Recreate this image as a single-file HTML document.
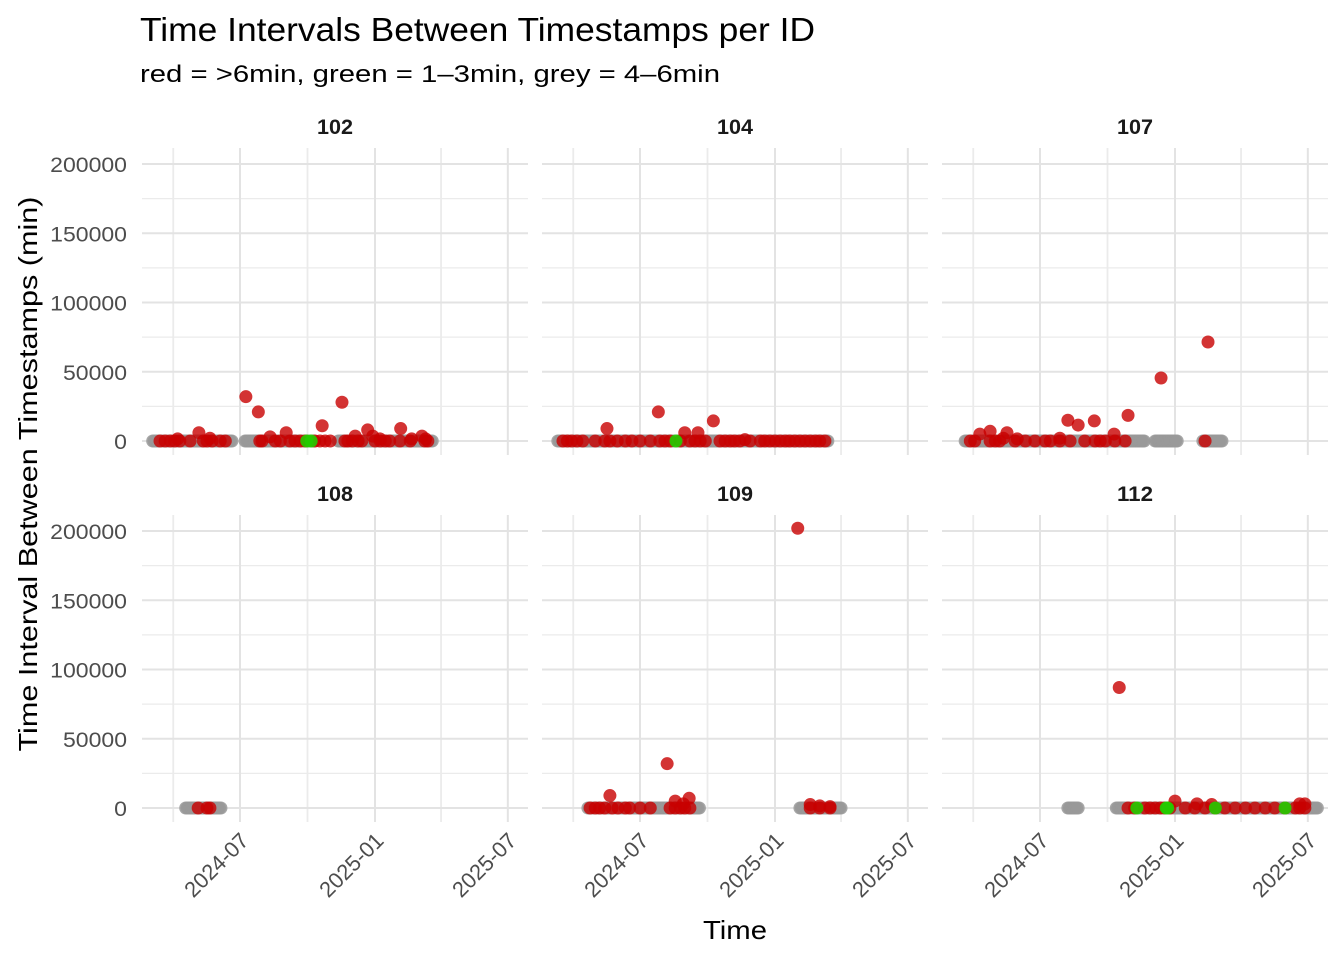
<!DOCTYPE html>
<html><head><meta charset="utf-8"><style>
body{margin:0;background:#fff;}
svg{display:block;font-family:"Liberation Sans",Arial,sans-serif;}
</style></head><body>
<svg id="chart" width="1344" height="960" xmlns="http://www.w3.org/2000/svg">
<text x="140" y="41" font-size="33" textLength="675" lengthAdjust="spacingAndGlyphs" fill="#000">Time Intervals Between Timestamps per ID</text>
<text x="140" y="82" font-size="24" textLength="580" lengthAdjust="spacingAndGlyphs" fill="#000">red = &gt;6min, green = 1–3min, grey = 4–6min</text>
<text transform="translate(37,474) rotate(-90)" text-anchor="middle" font-size="26" textLength="555" lengthAdjust="spacingAndGlyphs" fill="#000">Time Interval Between Timestamps (min)</text>
<text x="735" y="939" text-anchor="middle" font-size="26" textLength="64" lengthAdjust="spacingAndGlyphs" fill="#000">Time</text>
</svg>
<script>
// x values are days since 2024-07-01
const xTickDays = [0, 184, 365];
const xTickLabels = ["2024-07", "2025-01", "2025-07"];
const xMinorDays = [-91, 92, 274];
const yTicks = [0, 50000, 100000, 150000, 200000];
const yMinor = [25000, 75000, 125000, 175000];
const panelIds = ["102", "104", "107", "108", "109", "112"];

const grey102 = [[-119,-11],[7,102],[134,262]];
const redDay102 = [-109,-102,-95,-89,-82,-68,-50,-45,-38,-27,-20,27,30,48,55,68,75,82,89,102,109,116,123,143,147,153,161,166,184,191,198,204,218,232,252,256, 8,25,-56,-85,-41,41,63,112,139,157,174,181,191,219,234,248,253];
const redVal102 = [0,0,0,0,0,0,0,0,0,0,0,0,0,0,0,0,0,0,0,0,0,0,0,0,0,0,0,0,0,0,0,0,0,0,0,0, 32000,21000,6000,1500,2000,3000,6000,11000,28000,3500,8000,3500,1500,9000,1500,3500,1500];
const greenDay102 = [91,97];

const grey104 = [[-112,256]];
const redDay104 = [-105,-99,-93,-86,-78,-61,-48,-41,-31,-20,-11,0,14,27,34,41,55,68,75,82,89,109,116,123,129,136,150,164,170,177,184,191,198,204,211,218,225,232,239,245,252, -45,25,61,79,100,143];
const redVal104 = [0,0,0,0,0,0,0,0,0,0,0,0,0,0,0,0,0,0,0,0,0,0,0,0,0,0,0,0,0,0,0,0,0,0,0,0,0,0,0,0,0, 9000,21000,6000,6000,14500,1000];
const greenDay104 = [49];

const grey107 = [[-102,143],[157,187],[222,248]];
const redDay107 = [-95,-89,-68,-61,-55,-34,-20,-7,7,14,27,41,61,75,82,89,102,116,225, -82,-68,-45,-31,27,38,52,74,101,120,165,229,-50];
const redVal107 = [0,0,0,0,0,0,0,0,0,0,0,0,0,0,0,0,0,0,0, 5000,7000,6000,1500,2000,15000,11500,14500,5000,18500,45500,71500,2000];
const greenDay107 = [];

const grey108 = [[-74,-25]];
const redDay108 = [-57,-45,-41];
const redVal108 = [0,0,0];
const greenDay108 = [];

const grey109 = [[-71,82],[218,275]];
const redDay109 = [-68,-61,-55,-48,-38,-30,-20,-14,0,14,41,48,55,61,68,232,245,259, -41,37,48,59,67,215,232,245,259];
const redVal109 = [0,0,0,0,0,0,0,0,0,0,0,0,0,0,0,0,0,0, 9000,32000,5000,3000,7000,202000,2500,1500,1000];
const greenDay109 = [];

const grey112 = [[38,52],[104,379]];
const redDay112 = [120,129,143,150,157,164,170,177,198,211,225,239,252,266,280,293,307,320,334,348,354,361, 108,184,214,234,354,361];
const redVal112 = [0,0,0,0,0,0,0,0,0,0,0,0,0,0,0,0,0,0,0,0,0,0, 87000,5000,3000,2500,3000,3000];
const greenDay112 = [132,172,174,239,334];

const greys = [grey102, grey104, grey107, grey108, grey109, grey112];
const redDays = [redDay102, redDay104, redDay107, redDay108, redDay109, redDay112];
const redVals = [redVal102, redVal104, redVal107, redVal108, redVal109, redVal112];
const greenDays = [greenDay102, greenDay104, greenDay107, greenDay108, greenDay109, greenDay112];

const NS = "http://www.w3.org/2000/svg";
const svg = document.getElementById("chart");
function mk(tag, attrs, parent){const e=document.createElementNS(NS,tag);for(const k in attrs)e.setAttribute(k,attrs[k]);(parent||svg).appendChild(e);return e;}

const colX = [142, 542, 942], panelW = 386;
const rowTop = [148, 515], panelH = 307;
const zeroY = [441, 808], pxPerUnit = 277/200000;
const x0day = 240 - 142;
const pxPerDay = 135/184;

for (let p = 0; p < 6; p++) {
  const col = p % 3, row = Math.floor(p / 3);
  const L = colX[col], T = rowTop[row];
  const xs = d => L + x0day + d * pxPerDay;
  const ys = v => zeroY[row] - v * pxPerUnit;
  const g = mk("g", {});
  
  
  yMinor.forEach(v => { mk("line",{x1:L,x2:L+panelW,y1:ys(v),y2:ys(v),stroke:"#ebebeb","stroke-width":1.2},g); });
  xMinorDays.forEach(d => { mk("line",{x1:xs(d),x2:xs(d),y1:T,y2:T+panelH,stroke:"#ebebeb","stroke-width":1.8},g); });
  yTicks.forEach(v => { mk("line",{x1:L,x2:L+panelW,y1:ys(v),y2:ys(v),stroke:"#e3e3e3","stroke-width":2},g); });
  xTickDays.forEach(d => { mk("line",{x1:xs(d),x2:xs(d),y1:T,y2:T+panelH,stroke:"#e3e3e3","stroke-width":2},g); });
  const strip = mk("text",{x:L+panelW/2,y:T-14,"text-anchor":"middle","font-size":21,"font-weight":"bold",fill:"#1a1a1a",textLength:36,lengthAdjust:"spacingAndGlyphs"},g);
  
  
  strip.textContent = panelIds[p];
  if (col === 0) {
    yTicks.forEach(v => {
      const s = String(v);
      const t = mk("text",{x:L-15,y:ys(v)+8,"text-anchor":"end","font-size":21,fill:"#4d4d4d",textLength:12.8*s.length,lengthAdjust:"spacingAndGlyphs"});
      
      
      t.textContent = s;
    });
  }
  if (row === 1) {
    xTickDays.forEach((d, i) => {
      const t = mk("text",{transform:`translate(${xs(d)+10},${T+panelH+20}) rotate(-45)`,"text-anchor":"end","font-size":22,fill:"#4d4d4d",textLength:80,lengthAdjust:"spacingAndGlyphs"});
      
      
      t.textContent = xTickLabels[i];
    });
  }
  greys[p].forEach(r => {
    for (let d = r[0]; d <= r[1]; d += 2) {
      const c = mk("circle",{cx:xs(d),cy:ys(0),r:6.5,fill:"#999999","fill-opacity":0.85},g);
      
      
    }
  });
  redDays[p].forEach((d, i) => {
    const c = mk("circle",{cx:xs(d),cy:ys(redVals[p][i]),r:6.5,fill:"#c80000","fill-opacity":0.8},g);
    
    
  });
  greenDays[p].forEach(d => {
    const c = mk("circle",{cx:xs(d),cy:ys(0),r:6.5,fill:"#22cc00","fill-opacity":0.9},g);
    
    
  });
}
</script>
</body></html>
